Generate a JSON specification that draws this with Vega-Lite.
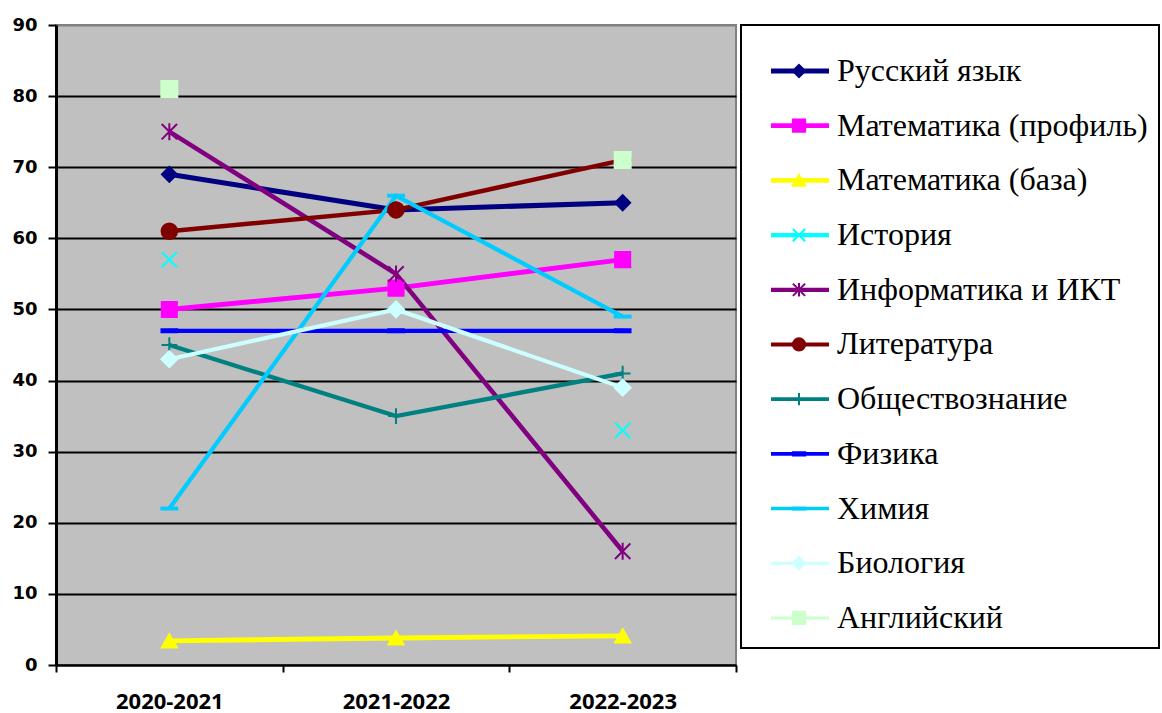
{
  "$schema": "https://vega.github.io/schema/vega-lite/v6.json",
  "background": "white",
  "padding": {"left": 10, "top": 15, "right": 0, "bottom": 0},
  "autosize": {"type": "pad"},
  "spacing": 5,
  "bounds": "flush",
  "datasets": {
    "scores": [
      {"subject": "Русский язык", "year": "2020-2021", "value": 69},
      {"subject": "Русский язык", "year": "2021-2022", "value": 64},
      {"subject": "Русский язык", "year": "2022-2023", "value": 65},
      {"subject": "Математика (профиль)", "year": "2020-2021", "value": 50},
      {"subject": "Математика (профиль)", "year": "2021-2022", "value": 53},
      {"subject": "Математика (профиль)", "year": "2022-2023", "value": 57},
      {"subject": "Математика (база)", "year": "2020-2021", "value": 3.4},
      {"subject": "Математика (база)", "year": "2021-2022", "value": 3.8},
      {"subject": "Математика (база)", "year": "2022-2023", "value": 4.1},
      {"subject": "История", "year": "2020-2021", "value": 57},
      {"subject": "История", "year": "2022-2023", "value": 33},
      {"subject": "Информатика и ИКТ", "year": "2020-2021", "value": 75},
      {"subject": "Информатика и ИКТ", "year": "2021-2022", "value": 55},
      {"subject": "Информатика и ИКТ", "year": "2022-2023", "value": 16},
      {"subject": "Литература", "year": "2020-2021", "value": 61},
      {"subject": "Литература", "year": "2021-2022", "value": 64},
      {"subject": "Литература", "year": "2022-2023", "value": 71},
      {"subject": "Обществознание", "year": "2020-2021", "value": 45},
      {"subject": "Обществознание", "year": "2021-2022", "value": 35},
      {"subject": "Обществознание", "year": "2022-2023", "value": 41},
      {"subject": "Физика", "year": "2020-2021", "value": 47},
      {"subject": "Физика", "year": "2021-2022", "value": 47},
      {"subject": "Физика", "year": "2022-2023", "value": 47},
      {"subject": "Химия", "year": "2020-2021", "value": 22},
      {"subject": "Химия", "year": "2021-2022", "value": 66},
      {"subject": "Химия", "year": "2022-2023", "value": 49},
      {"subject": "Биология", "year": "2020-2021", "value": 43},
      {"subject": "Биология", "year": "2021-2022", "value": 50},
      {"subject": "Биология", "year": "2022-2023", "value": 39},
      {"subject": "Английский", "year": "2020-2021", "value": 81},
      {"subject": "Английский", "year": "2022-2023", "value": 71}
    ]
  },
  "hconcat": [
    {
      "width": 680,
      "height": 640,
      "view": {"fill": "#C0C0C0", "stroke": "#808080", "strokeWidth": 2},
      "data": {"name": "scores"},
      "encoding": {
        "x": {
          "field": "year", "type": "nominal", "bandPosition": 0.5,
          "scale": {"type": "band", "paddingInner": 0, "paddingOuter": 0},
          "axis": {
            "title": null, "labelAngle": 0, "tickBand": "extent", "ticks": true,
            "tickColor": "black", "tickSize": 7, "tickWidth": 2,
            "domainColor": "black", "domainWidth": 2, "grid": false,
            "labelFont": "Open Sans", "labelFontWeight": "bold", "labelFontSize": 22,
            "labelColor": "black", "labelPadding": 19
          }
        },
        "y": {
          "field": "value", "type": "quantitative",
          "scale": {"domain": [0, 90], "nice": false},
          "axis": {
            "title": null, "values": [0, 10, 20, 30, 40, 50, 60, 70, 80, 90],
            "tickColor": "black", "tickSize": 8, "tickWidth": 2,
            "domainColor": "black", "domainWidth": 3,
            "grid": true, "gridWidth": 2, "gridOpacity": 1,
            "gridColor": {"condition": {"test": "datum.value == 90", "value": "#808080"}, "value": "black"},
            "labelFont": "DejaVu Sans", "labelFontWeight": "bold", "labelFontSize": 18,
            "labelColor": "black", "labelPadding": 11
          }
        },
        "color": {
          "field": "subject", "type": "nominal",
          "scale": {
            "domain": ["Русский язык", "Математика (профиль)", "Математика (база)", "История", "Информатика и ИКТ", "Литература", "Обществознание", "Физика", "Химия", "Биология", "Английский"],
            "range": ["#000080", "#FF00FF", "#FFFF00", "#00FFFF", "#800080", "#800000", "#008080", "#0000FF", "#00CCFF", "#CCFFFF", "#CCFFCC"]
          },
          "legend": null
        }
      },
      "layer": [
        {
          "transform": [{"filter": "datum.subject != 'История' && datum.subject != 'Английский'"}],
          "mark": {"type": "line"},
          "encoding": {
            "strokeWidth": {
              "field": "subject", "type": "nominal",
              "scale": {
                "domain": ["Русский язык", "Математика (профиль)", "Математика (база)", "История", "Информатика и ИКТ", "Литература", "Обществознание", "Физика", "Химия", "Биология", "Английский"],
                "range": [5, 4, 4, 0, 5, 5, 4, 4, 3.5, 2, 0]
              },
              "legend": null
            }
          }
        },
        {
          "mark": {"type": "point", "filled": true, "opacity": 1, "strokeWidth": 2},
          "encoding": {
            "stroke": {
              "field": "subject", "type": "nominal",
              "scale": {
                "domain": ["Русский язык", "Математика (профиль)", "Математика (база)", "История", "Информатика и ИКТ", "Литература", "Обществознание", "Физика", "Химия", "Биология", "Английский"],
                "range": ["#000080", "#FF00FF", "#FFFF00", "#00FFFF", "#800080", "#800000", "#008080", "#0000FF", "#00CCFF", "#CCFFFF", "#CCFFCC"]
              },
              "legend": null
            },
            "shape": {
              "field": "subject", "type": "nominal",
              "scale": {
                "domain": ["Русский язык", "Математика (профиль)", "Математика (база)", "История", "Информатика и ИКТ", "Литература", "Обществознание", "Физика", "Химия", "Биология", "Английский"],
                "range": ["diamond", "square", "triangle-up", "M-1,-1L1,1M-1,1L1,-1", "M-1,-1L1,1M-1,1L1,-1M0,-1.1L0,1.1", "circle", "M-1,0L1,0M0,-1L0,1", "M-1,-0.2L1,-0.2L1,0.2L-1,0.2Z", "M-1,-0.12L1,-0.12L1,0.12L-1,0.12Z", "diamond", "square"]
              },
              "legend": null
            },
            "size": {
              "field": "subject", "type": "nominal",
              "scale": {
                "domain": ["Русский язык", "Математика (профиль)", "Математика (база)", "История", "Информатика и ИКТ", "Литература", "Обществознание", "Физика", "Химия", "Биология", "Английский"],
                "range": [225, 256, 169, 289, 289, 400, 256, 100, 256, 196, 169]
              },
              "legend": null
            }
          }
        }
      ]
    },
    {
      "width": 418,
      "height": 623,
      "view": {"fill": "white", "stroke": "black", "strokeWidth": 2},
      "data": {"name": "scores"},
      "transform": [{"filter": "datum.year == '2020-2021'"}],
      "encoding": {
        "y": {
          "field": "subject", "type": "nominal",
          "sort": ["Русский язык", "Математика (профиль)", "Математика (база)", "История", "Информатика и ИКТ", "Литература", "Обществознание", "Физика", "Химия", "Биология", "Английский"],
          "scale": {"type": "point", "padding": 0.695, "align": 0.605},
          "axis": null
        },
        "color": {
          "field": "subject", "type": "nominal",
          "scale": {
            "domain": ["Русский язык", "Математика (профиль)", "Математика (база)", "История", "Информатика и ИКТ", "Литература", "Обществознание", "Физика", "Химия", "Биология", "Английский"],
            "range": ["#000080", "#FF00FF", "#FFFF00", "#00FFFF", "#800080", "#800000", "#008080", "#0000FF", "#00CCFF", "#CCFFFF", "#CCFFCC"]
          },
          "legend": null
        }
      },
      "layer": [
        {
          "mark": {"type": "rule"},
          "encoding": {
            "x": {"datum": 30, "type": "quantitative", "scale": {"domain": [0, 418], "nice": false}, "axis": null},
            "x2": {"datum": 88},
            "strokeWidth": {
              "field": "subject", "type": "nominal",
              "scale": {
                "domain": ["Русский язык", "Математика (профиль)", "Математика (база)", "История", "Информатика и ИКТ", "Литература", "Обществознание", "Физика", "Химия", "Биология", "Английский"],
                "range": [5, 3, 3, 3, 3, 5, 3, 3, 3, 3, 3]
              },
              "legend": null
            }
          }
        },
        {
          "mark": {"type": "point", "filled": true, "opacity": 1, "strokeWidth": 2},
          "encoding": {
            "x": {"datum": 58, "type": "quantitative"},
            "stroke": {
              "field": "subject", "type": "nominal",
              "scale": {
                "domain": ["Русский язык", "Математика (профиль)", "Математика (база)", "История", "Информатика и ИКТ", "Литература", "Обществознание", "Физика", "Химия", "Биология", "Английский"],
                "range": ["#000080", "#FF00FF", "#FFFF00", "#00FFFF", "#800080", "#800000", "#008080", "#0000FF", "#00CCFF", "#CCFFFF", "#CCFFCC"]
              },
              "legend": null
            },
            "shape": {
              "field": "subject", "type": "nominal",
              "scale": {
                "domain": ["Русский язык", "Математика (профиль)", "Математика (база)", "История", "Информатика и ИКТ", "Литература", "Обществознание", "Физика", "Химия", "Биология", "Английский"],
                "range": ["diamond", "square", "triangle-up", "M-1,-1L1,1M-1,1L1,-1", "M-1,-1L1,1M-1,1L1,-1M0,-1.1L0,1.1", "circle", "M-1,0L1,0M0,-1L0,1", "M-1,-0.25L1,-0.25L1,0.25L-1,0.25Z", "M-1,-0.15L1,-0.15L1,0.15L-1,0.15Z", "diamond", "square"]
              },
              "legend": null
            },
            "size": {
              "field": "subject", "type": "nominal",
              "scale": {
                "domain": ["Русский язык", "Математика (профиль)", "Математика (база)", "История", "Информатика и ИКТ", "Литература", "Обществознание", "Физика", "Химия", "Биология", "Английский"],
                "range": [150, 150, 150, 169, 169, 256, 169, 64, 196, 150, 196]
              },
              "legend": null
            }
          }
        },
        {
          "mark": {"type": "text", "align": "left", "baseline": "middle", "font": "Liberation Serif", "fontSize": 32},
          "encoding": {
            "x": {"datum": 96, "type": "quantitative"},
            "text": {"field": "subject", "type": "nominal"},
            "color": {"value": "black"}
          }
        }
      ]
    }
  ],
  "resolve": {
    "scale": {"x": "independent", "y": "independent", "size": "independent", "strokeWidth": "independent", "shape": "independent", "stroke": "independent"}
  }
}
